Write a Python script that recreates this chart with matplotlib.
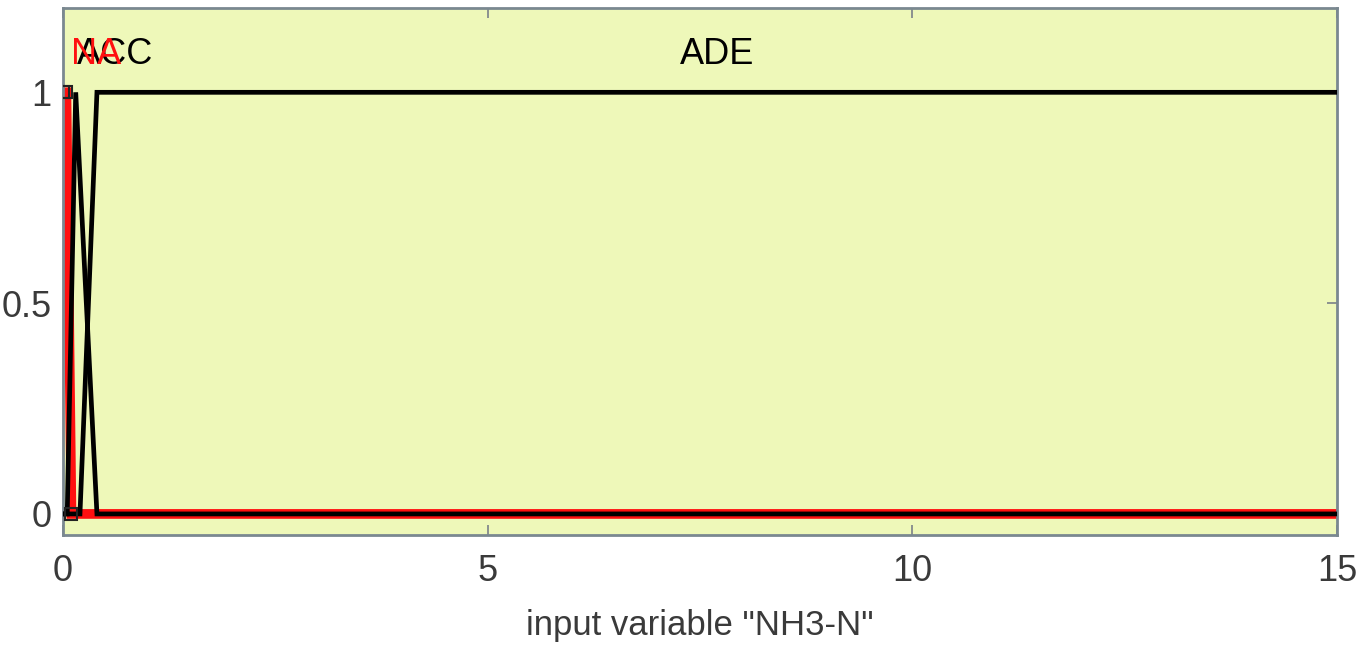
import matplotlib
matplotlib.use("Agg")
import matplotlib.pyplot as plt

plt.rcParams['font.family'] = ['Liberation Sans', 'DejaVu Sans']

# membership functions of input variable "NH3-N"
mf_names = ["NA", "ACC", "ADE"]
mf_x = [
    [0.0, 0.04, 0.1, 15.0],      # selected (red)
    [0.0, 0.05, 0.15, 0.4, 15.0],
    [0.0, 0.2, 0.4, 15.0],
]
mf_y = [
    [1, 1, 0, 0],
    [0, 0, 1, 0, 0],
    [0, 0, 1, 1],
]
label_x = [0.1, 0.16, 7.7]
label_y = [1.09, 1.09, 1.09]
xticks = [0, 5, 10, 15]
yticks = [0, 0.5, 1]
ytick_labels = ["0", "0.5", "1"]

fig = plt.figure(figsize=(13.63, 6.5), dpi=100)
ax = fig.add_axes([0.0462, 0.1769, 0.9348, 0.8108])
ax.set_facecolor('#EEF8B9')

# black (unselected) MFs
for i in (1, 2):
    ax.plot(mf_x[i], mf_y[i], color='black', lw=3.4, solid_joinstyle='miter', zorder=3)
# selected MF red
ax.plot(mf_x[0], mf_y[0], color='#FF1010', lw=7, solid_joinstyle='miter', zorder=2)
ax.plot(mf_x[0][:3], mf_y[0][:3], ls='none', marker='s', ms=9, mfc='none',
        mec='#222222', mew=1.5, zorder=4)

ax.text(label_x[2], label_y[2], mf_names[2], color='black', fontsize=26,
        ha='center', va='center', zorder=5)
ax.text(label_x[1], label_y[1], mf_names[1], color='black', fontsize=26,
        ha='left', va='center', zorder=5)
ax.text(label_x[0], label_y[0], mf_names[0], color='#FF1010', fontsize=26,
        ha='left', va='center', zorder=6)

ax.set_xlim(0, 15)
ax.set_ylim(-0.05, 1.2)
ax.set_xticks(xticks)
ax.set_yticks(yticks)
ax.set_yticklabels(ytick_labels)
ax.tick_params(direction='in', top=True, right=True, length=7, width=1.2,
               colors='#7a8088', labelsize=26, labelcolor='#3a3a3a')
ax.tick_params(axis='x', pad=14)
ax.tick_params(axis='y', pad=8)
for s in ax.spines.values():
    s.set_color('#7a8890')
    s.set_linewidth(2)
ax.set_xlabel('input variable "NH3-N"', fontsize=25, color='#3a3a3a', labelpad=14)

fig.savefig('out.png', dpi=100)
